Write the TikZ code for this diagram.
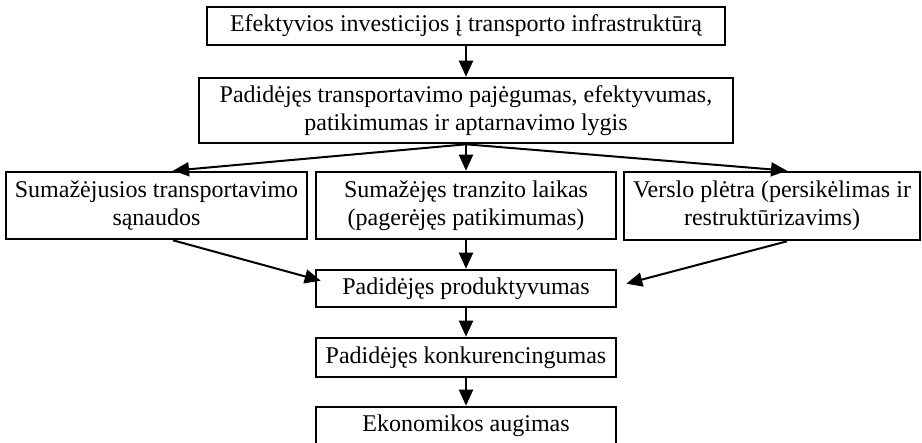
\documentclass[tikz,border=0pt]{standalone}
\usepackage{fontspec}
\setmainfont{Liberation Serif}
\usetikzlibrary{arrows.meta,calc}

\tikzset{
  box/.style={draw, line width=1.3pt, fill=white, inner sep=0pt, align=center,
              font=\fontsize{12pt}{13.8pt}\selectfont},
  flow/.style={line width=1pt, -{Triangle[width=7pt,length=8pt]}}
}

\begin{document}
\begin{tikzpicture}[x=0.5pt,y=-0.5pt]
  % canvas: 922 x 443 units
  \useasboundingbox (0,0) rectangle (922,443);
  \clip (0,0) rectangle (922,443);

  \node[box, minimum width=259pt, minimum height=19pt] (inv) at (466,26)
    {Efektyvios investicijos į transporto infrastruktūrą};
  \node[box, minimum width=267pt, minimum height=32.5pt] (cap) at (466,110.5)
    {Padidėjęs transportavimo pajėgumas, efektyvumas,\\patikimumas ir aptarnavimo lygis};

  \node[box, minimum width=150.5pt, minimum height=33.5pt] (cost) at (156.5,205.5)
    {Sumažėjusios transportavimo\\sąnaudos};
  \node[box, minimum width=150pt, minimum height=33.5pt] (time) at (466,205.5)
    {Sumažėjęs tranzito laikas\\(pagerėjęs patikimumas)};
  \node[box, minimum width=148pt, minimum height=34pt] (biz) at (772,206)
    {Verslo plėtra (persikėlimas ir\\restruktūrizavims)};

  \node[box, minimum width=150pt, minimum height=18.5pt] (prod) at (466,288.5)
    {Padidėjęs produktyvumas};
  \node[box, minimum width=150pt, minimum height=19.5pt] (comp) at (466,357.5)
    {Padidėjęs konkurencingumas};
  \node[box, minimum width=150pt, minimum height=19pt] (grow) at (466,426)
    {Ekonomikos augimas};

  % connectors
  \draw[flow] (inv.south) -- (cap.north);
  \draw[flow] (cap.south) -- ($(cost.north)+(16.5,0)$);
  \draw[flow] (cap.south) -- (time.north);
  \draw[flow] (cap.south) -- ($(biz.north)+(15,0)$);

  \draw[flow] ($(cost.south)+(16.5,0)$) -- ($(prod.north west)+(6,12)$);
  \draw[flow] (time.south) -- (prod.north);
  \draw[flow] ($(biz.south)+(15,0)$) -- ($(prod.north east)+(9,15)$);

  \draw[flow] (prod.south) -- (comp.north);
  \draw[flow] (comp.south) -- (grow.north);
\end{tikzpicture}
\end{document}
